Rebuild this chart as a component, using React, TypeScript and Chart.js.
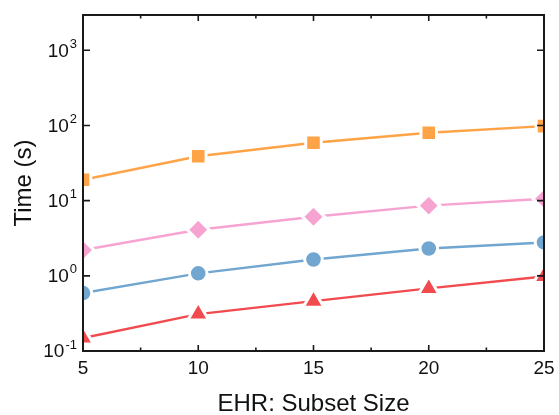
import React, { useEffect, useRef } from 'react';
import { Chart, registerables } from 'chart.js';

Chart.register(...registerables);

const subsetSizes = [5, 10, 15, 20, 25];
const orangeSeries = [19, 39, 59, 80, 98];
const pinkSeries = [2.2, 4.1, 6.1, 8.6, 10.6];
const blueSeries = [0.59, 1.08, 1.65, 2.31, 2.78];
const redSeries = [0.149, 0.31, 0.46, 0.68, 0.98];

const xMajorTicks = [5, 10, 15, 20, 25];
const xMinorTicks = [7.5, 12.5, 17.5, 22.5];
const yDecadeTicks = [0.1, 1, 10, 100, 1000];
const yTickExponents = ['-1', '0', '1', '2', '3'];

const xTitle = 'EHR: Subset Size';
const yTitle = 'Time (s)';

const FONT = '"Liberation Sans", Arial, sans-serif';

const framePlugin = {
  id: 'originFrame',
  afterDatasetsDraw(chart: any) {
    const { ctx, chartArea } = chart;
    const xs = chart.scales.x;
    const ys = chart.scales.y;
    const { left, right, top, bottom } = chartArea;
    ctx.save();
    ctx.strokeStyle = '#1a1a1a';
    ctx.lineWidth = 2;
    ctx.strokeRect(left, top, right - left, bottom - top);
    ctx.lineWidth = 1.6;
    ctx.beginPath();
    for (const v of xMajorTicks) {
      const px = xs.getPixelForValue(v);
      ctx.moveTo(px, bottom);
      ctx.lineTo(px, bottom - 6);
      ctx.moveTo(px, top);
      ctx.lineTo(px, top + 6);
    }
    for (const v of xMinorTicks) {
      const px = xs.getPixelForValue(v);
      ctx.moveTo(px, bottom);
      ctx.lineTo(px, bottom - 3.5);
      ctx.moveTo(px, top);
      ctx.lineTo(px, top + 3.5);
    }
    for (const v of yDecadeTicks) {
      const py = ys.getPixelForValue(v);
      ctx.moveTo(left, py);
      ctx.lineTo(left + 7, py);
      ctx.moveTo(right, py);
      ctx.lineTo(right - 7, py);
    }
    ctx.stroke();
    ctx.restore();
  },
  afterDraw(chart: any) {
    const { ctx, chartArea } = chart;
    const xs = chart.scales.x;
    const ys = chart.scales.y;
    ctx.save();
    ctx.fillStyle = '#111';
    // x tick labels
    ctx.font = `19px ${FONT}`;
    ctx.textAlign = 'center';
    ctx.textBaseline = 'middle';
    for (const v of xMajorTicks) {
      ctx.fillText(String(v), xs.getPixelForValue(v), chartArea.bottom + 18);
    }
    // y tick labels with superscript exponents
    const rightEdge = chartArea.left - 6;
    yDecadeTicks.forEach((v, i) => {
      const py = ys.getPixelForValue(v);
      const exp = yTickExponents[i];
      ctx.font = `13px ${FONT}`;
      const expW = ctx.measureText(exp).width;
      ctx.textAlign = 'left';
      ctx.textBaseline = 'middle';
      const expX = rightEdge - expW;
      ctx.fillText(exp, expX, py - 6);
      ctx.font = `19px ${FONT}`;
      ctx.textAlign = 'right';
      ctx.fillText('10', expX - 1, py + 1);
    });
    // axis titles
    ctx.font = `24px ${FONT}`;
    ctx.textAlign = 'center';
    ctx.textBaseline = 'middle';
    ctx.fillText(xTitle, (chartArea.left + chartArea.right) / 2, 404);
    ctx.translate(24, (chartArea.top + chartArea.bottom) / 2);
    ctx.rotate(-Math.PI / 2);
    ctx.fillText(yTitle, 0, 0);
    ctx.restore();
  },
};

function series(values: number[]) {
  return subsetSizes.map((x, i) => ({ x, y: values[i] }));
}

export default function App() {
  const ref = useRef<HTMLCanvasElement | null>(null);
  useEffect(() => {
    if (!ref.current) return;
    const mk = (values: number[], color: string, style: string, radius: number) => ({
      data: series(values),
      borderColor: color,
      backgroundColor: color,
      borderWidth: 2.4,
      pointStyle: style,
      pointRadius: radius,
      pointBackgroundColor: color,
      pointBorderColor: '#ffffff',
      pointBorderWidth: 3,
      tension: 0,
      clip: 0,
    });
    const chart = new Chart(ref.current, {
      type: 'line',
      data: {
        datasets: [
          mk(orangeSeries, '#FFA347', 'rect', 11),
          mk(pinkSeries, '#F7A3D2', 'rectRot', 11),
          mk(blueSeries, '#70A6D0', 'circle', 8.8),
          mk(redSeries, '#F24B4F', 'triangle', 12),
        ] as any,
      },
      options: {
        animation: false,
        responsive: false,
        layout: { padding: { left: 83, top: 11, right: 14, bottom: 64 } },
        plugins: { legend: { display: false }, tooltip: { enabled: false } },
        scales: {
          x: { type: 'linear', min: 5, max: 25, display: false },
          y: { type: 'logarithmic', min: 0.1, max: 2950, display: false },
        },
      },
      plugins: [framePlugin],
    });
    return () => chart.destroy();
  }, []);
  return (
    <div style={{ position: 'absolute', left: 0, top: 0, width: 559, height: 415, background: '#fff' }}>
      <canvas ref={ref} width={559} height={415} style={{ display: 'block' }} />
    </div>
  );
}
